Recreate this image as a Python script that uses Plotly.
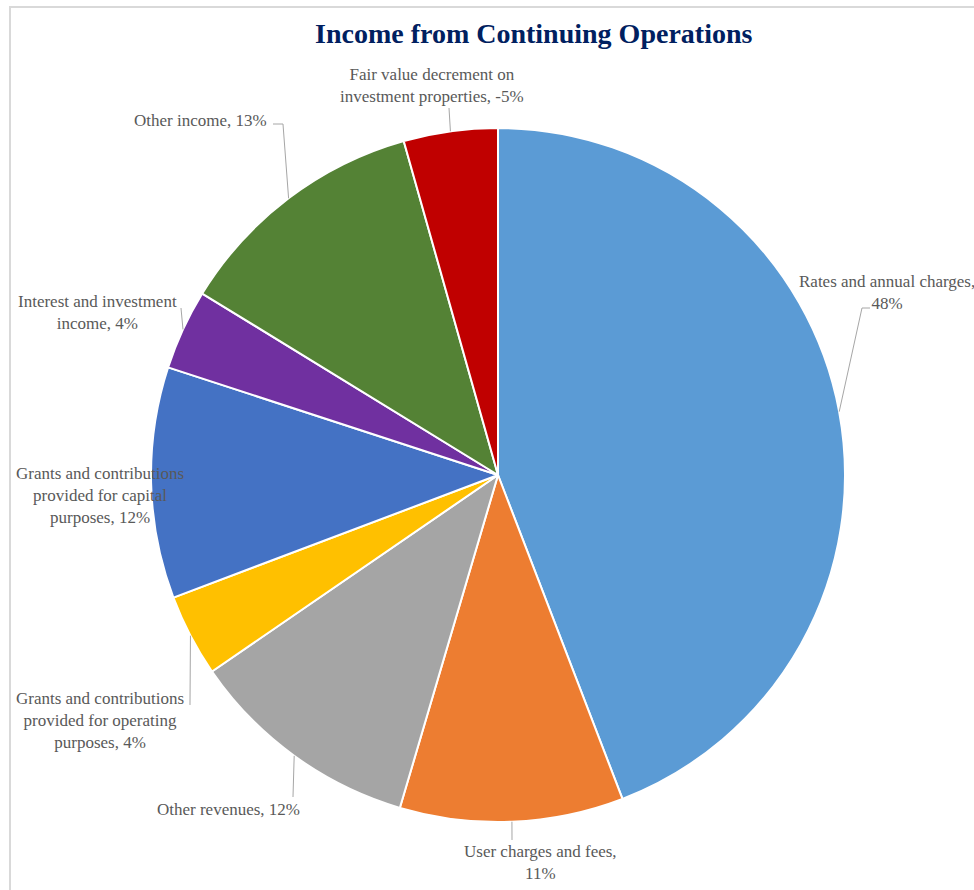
import math
import plotly.graph_objects as go

# ---- data ----
categories = [
    "Rates and annual charges",
    "User charges and fees",
    "Other revenues",
    "Grants and contributions provided for operating purposes",
    "Grants and contributions provided for capital purposes",
    "Interest and investment income",
    "Other income",
    "Fair value decrement on investment properties",
]
percent_labels = [48, 11, 12, 4, 12, 4, 13, -5]
# share of net income (absolute value used for slice size)
slice_sizes = [48.4, 11.4, 11.9, 4.2, 11.8, 4.1, 13.0, 4.8]
label_text = [
    "Rates and annual charges,<br>48%",
    "User charges and fees,<br>11%",
    "Other revenues, 12%",
    "Grants and contributions<br>provided for operating<br>purposes, 4%",
    "Grants and contributions<br>provided for capital<br>purposes, 12%",
    "Interest and investment<br>income, 4%",
    "Other income, 13%",
    "Fair value decrement on<br>investment properties, -5%",
]

# ---- style / layout ----
W, H = 974, 890
colors = ["#5B9BD5", "#ED7D31", "#A5A5A5", "#FFC000", "#4472C4", "#7030A0", "#548235", "#C00000"]
CX, CY, R = 498, 475, 347
# label centre positions (px) and leader-line elbow points (px), None = no line
label_pos = [(887, 292), (540, 862), (228, 809), (100, 720), (100, 495), (97, 312), (200, 120), (432, 85)]
elbows = [
    [(862, 308), (870, 308)],
    [(512, 840)],
    [(293, 797)],
    [(190, 705)],
    None,
    [(181, 308)],
    [(283, 124), (273, 124)],
    [(449, 108)],
]

def px(x, y):
    return x / W, 1 - y / H

fig = go.Figure(go.Pie(
    values=slice_sizes,
    labels=categories,
    marker=dict(colors=colors, line=dict(color="white", width=2)),
    textinfo="none",
    sort=False,
    direction="clockwise",
    rotation=0,
    hoverinfo="label",
    domain=dict(x=[(CX - R) / W, (CX + R) / W], y=[1 - (CY + R) / H, 1 - (CY - R) / H]),
    showlegend=False,
))

shapes = []
annotations = []
total = sum(slice_sizes)
cum = 0
for i, v in enumerate(slice_sizes):
    mid = (cum + v / 2) / total * 2 * math.pi
    cum += v
    ax = CX + R * math.sin(mid)
    ay = CY - R * math.cos(mid)
    if elbows[i]:
        pts = [(ax, ay)] + elbows[i]
        path = ""
        for j, (x, y) in enumerate(pts):
            X, Y = px(x, y)
            path += ("M" if j == 0 else " L") + f"{X:.5f},{Y:.5f}"
        shapes.append(dict(type="path", xref="paper", yref="paper", path=path,
                           line=dict(color="#A6A6A6", width=1)))
    lx, ly = px(*label_pos[i])
    annotations.append(dict(x=lx, y=ly, xref="paper", yref="paper", text=label_text[i],
                            showarrow=False, xanchor="center", yanchor="middle", align="center",
                            font=dict(family="Liberation Serif, Times New Roman, serif", size=17, color="#595959")))

# chart border
x0, y0 = px(10, 7)
x1, y1 = px(990, 905)
shapes.insert(0, dict(type="rect", xref="paper", yref="paper", x0=x0, y0=y1, x1=x1, y1=y0,
                      line=dict(color="#D9D9D9", width=2), layer="below"))

annotations.append(dict(x=533 / W, y=1 - 33 / H, xref="paper", yref="paper",
                        text="<b>Income from Continuing Operations</b>", showarrow=False,
                        xanchor="center", yanchor="middle",
                        font=dict(family="Liberation Serif, Times New Roman, serif", size=28, color="#002060")))

fig.update_layout(
    width=W, height=H,
    margin=dict(l=0, r=0, t=0, b=0),
    paper_bgcolor="white",
    plot_bgcolor="white",
    shapes=shapes,
    annotations=annotations,
)

fig.write_html("out.html")
